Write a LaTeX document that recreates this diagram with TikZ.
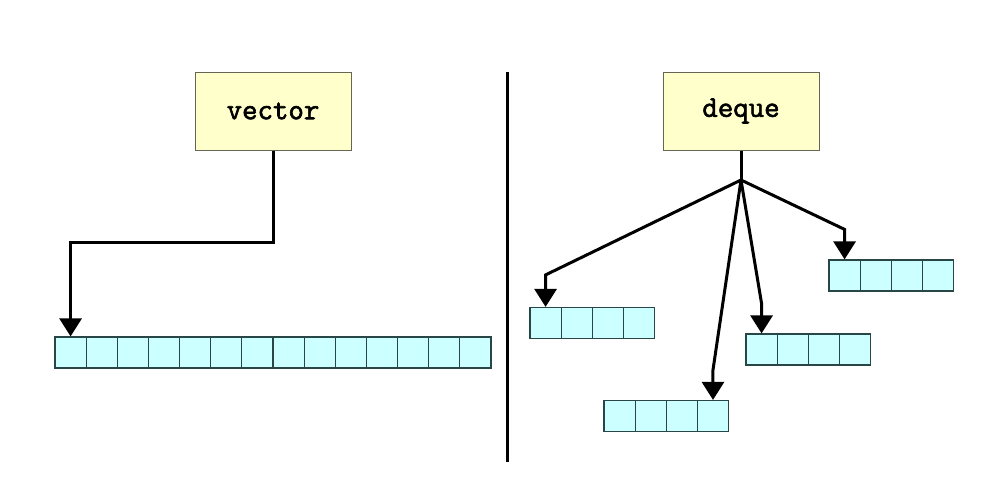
\documentclass[tikz,border=0pt]{standalone}
\usepackage{fontspec}
\newfontfamily\boxfont[FakeBold=2]{Latin Modern Mono}
\usetikzlibrary{arrows.meta}
\definecolor{boxfill}{RGB}{255, 255, 204}
\definecolor{boxline}{RGB}{102, 102, 85}
\definecolor{cellfill}{RGB}{204, 255, 255}
\definecolor{cellline}{RGB}{40, 70, 70}

\tikzset{
  container/.style={draw=boxline, fill=boxfill, line width=1pt, inner sep=0pt,
    minimum width=156pt, minimum height=78pt,
    font=\fontsize{30}{34}\boxfont},
  cell/.style={draw=cellline, fill=cellfill, line width=1.2pt, inner sep=0pt,
    minimum width=31.14pt, minimum height=31pt},
  link/.style={line width=3pt, -{Triangle[width=22pt, length=18pt]}},
}

\begin{document}
\begin{tikzpicture}[x=1pt, y=-1pt]
  \useasboundingbox (0, 0) rectangle (996, 491);

  % the two containers
  \node[container] (vector) at (273, 111) {vector};
  \node[container] (deque) at (741, 111) {deque};

  % divider
  \draw[line width=3pt] (507, 72) -- (507, 462);

  % one long block for the vector
  \foreach \i in {1, ..., 14} {
    \node[cell] (v\i) at ({55 + 31.14 * (\i - 0.5)}, 352.5) {};
  }

  % four short blocks for the deque
  \foreach [count=\b] \x/\y in {530/323, 604/416, 746/349.5, 829/275.5} {
    \foreach \i in {1, ..., 4} {
      \node[cell] (d\b-\i) at ({\x + 31.14 * (\i - 0.5)}, \y) {};
    }
  }

  \draw[link] (vector.south) -- ++(0, 92) -| (v1.north);

  \coordinate (fork) at (741, 180);
  \draw[line width=3pt] (deque.south) -- (fork);
  \draw[link] (fork) -- ([yshift=32pt]d1-1.north) -- (d1-1.north);
  \draw[link] (fork) -- ([yshift=30pt]d2-4.north) -- (d2-4.north);
  \draw[link] (fork) -- ([yshift=30pt]d3-1.north) -- (d3-1.north);
  \draw[link] (fork) -- ([yshift=30pt]d4-1.north) -- (d4-1.north);

\end{tikzpicture}
\end{document}
